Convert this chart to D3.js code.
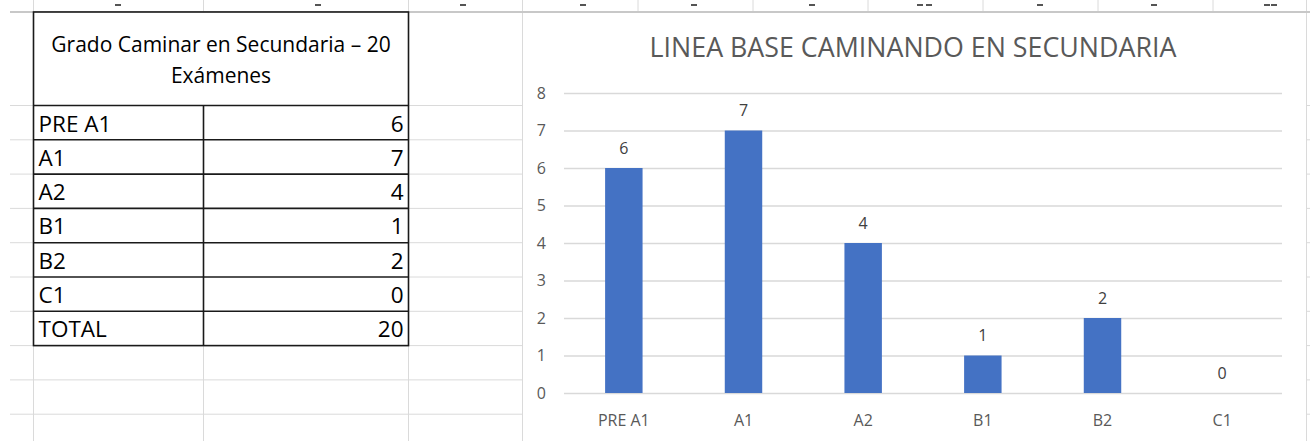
<!DOCTYPE html>
<html>
<head>
<meta charset="utf-8">
<script src="https://cdn.jsdelivr.net/npm/d3@7"></script>
<style>
  body { margin: 0; background: #fff; }
  svg { display: block; font-family: "Open Sans", "Noto Sans", sans-serif; }
</style>
</head>
<body>
<div id="d3"></div>
<script>
// chart data
var categories = ["PRE A1", "A1", "A2", "B1", "B2", "C1"];
var values = [6, 7, 4, 1, 2, 0];
var yTicks = [0, 1, 2, 3, 4, 5, 6, 7, 8];
var chartTitle = "LINEA BASE CAMINANDO EN SECUNDARIA";

// table data
var tableTitle = ["Grado Caminar en Secundaria \u2013 20", "Ex\u00e1menes"];
var tableLabels = ["PRE A1", "A1", "A2", "B1", "B2", "C1", "TOTAL"];
var tableValues = [6, 7, 4, 1, 2, 0, 20];

var W = 1310, H = 441;

var svg = d3.select("#d3")
  .append("svg")
  .attr("width", W)
  .attr("height", H);

// ---- spreadsheet background grid ----
var colLines = [33.5, 203.5, 408.5, 522.5, 638, 753, 868, 983, 1098, 1213, 1306.5];
var rowTop = 12, headBottom = 105.5, rowH = 34.3;
var rowLines = [];
for (var i = 0; i < 10; i++) rowLines.push(headBottom + i * rowH);

var grid = svg.append("g").attr("stroke", "#dadada").attr("stroke-width", 1);

colLines.forEach(function (x) {
  grid.append("line").attr("x1", x).attr("x2", x).attr("y1", 0).attr("y2", H);
});
rowLines.forEach(function (y) {
  grid.append("line").attr("x1", 10).attr("x2", W).attr("y1", y).attr("y2", y);
});
svg.append("line")
  .attr("x1", 10).attr("x2", W).attr("y1", rowTop).attr("y2", rowTop)
  .attr("stroke", "#c8c8c8").attr("stroke-width", 2);

// tiny cut-off text from the row above
[118, 318, 463, 583, 694, 812, 920, 929, 1040, 1154, 1267, 1274].forEach(function (x) {
  svg.append("rect").attr("x", x - 3).attr("y", 4).attr("width", 6).attr("height", 2)
    .attr("fill", "#555");
});

// ---- table ----
var table = svg.append("g");
var tLeft = 33.5, tMid = 203.5, tRight = 408.5;
var tBottom = headBottom + tableLabels.length * rowH;

table.append("rect")
  .attr("x", tLeft).attr("y", rowTop).attr("width", tRight - tLeft).attr("height", tBottom - rowTop)
  .attr("fill", "#fff");

table.selectAll(".head")
  .data(tableTitle)
  .enter().append("text")
  .attr("x", (tLeft + tRight) / 2)
  .attr("y", function (d, i) { return 52 + i * 31; })
  .attr("text-anchor", "middle")
  .attr("font-size", 21)
  .attr("fill", "#000")
  .text(function (d) { return d; });

var rows = table.selectAll(".row")
  .data(tableLabels)
  .enter().append("g")
  .attr("transform", function (d, i) { return "translate(0," + (headBottom + i * rowH) + ")"; });

rows.append("text")
  .attr("x", tLeft + 5)
  .attr("y", 26)
  .attr("font-size", 22.5)
  .attr("fill", "#000")
  .text(function (d) { return d; });

rows.append("text")
  .attr("x", tRight - 5)
  .attr("y", 26)
  .attr("text-anchor", "end")
  .attr("font-size", 22.5)
  .attr("fill", "#000")
  .text(function (d, i) { return tableValues[i]; });

// borders
var border = table.append("g").attr("stroke", "#1a1a1a").attr("stroke-width", 1.6).attr("fill", "none");
border.append("rect")
  .attr("x", tLeft).attr("y", rowTop).attr("width", tRight - tLeft).attr("height", tBottom - rowTop);
for (var r = 0; r < tableLabels.length; r++) {
  border.append("line")
    .attr("x1", tLeft).attr("x2", tRight)
    .attr("y1", headBottom + r * rowH).attr("y2", headBottom + r * rowH);
}
border.append("line")
  .attr("x1", tMid).attr("x2", tMid).attr("y1", headBottom).attr("y2", tBottom);

// ---- chart ----
var chartBox = {left: 523, right: 1306, top: 13};
svg.append("rect")
  .attr("x", chartBox.left).attr("y", chartBox.top)
  .attr("width", chartBox.right - chartBox.left).attr("height", H - chartBox.top)
  .attr("fill", "#fff");

var plot = {left: 564, right: 1282, top: 93, bottom: 393};

var x = d3.scaleBand()
  .domain(categories)
  .range([plot.left, plot.right])
  .paddingInner(0.687)
  .paddingOuter(0.3435);

var y = d3.scaleLinear()
  .domain([0, 8])
  .range([plot.bottom, plot.top]);

svg.append("text")
  .attr("x", (plot.left + plot.right) / 2 - 10)
  .attr("y", 57)
  .attr("text-anchor", "middle")
  .attr("font-size", 26.8)
  .attr("fill", "#595959")
  .text(chartTitle);

// Y axis with gridlines
var yAxis = svg.append("g")
  .attr("transform", "translate(" + plot.left + ",0)")
  .call(d3.axisLeft(y)
    .tickValues(yTicks)
    .tickSize(-(plot.right - plot.left))
    .tickPadding(18)
    .tickFormat(d3.format("d")));
yAxis.select(".domain").remove();
yAxis.selectAll(".tick line").attr("stroke", "#d9d9d9").attr("stroke-width", 1.3);
yAxis.selectAll(".tick text")
  .attr("font-family", "Open Sans")
  .attr("font-size", 16)
  .attr("fill", "#595959");

// X axis
var xAxis = svg.append("g")
  .attr("transform", "translate(0," + plot.bottom + ")")
  .call(d3.axisBottom(x).tickSize(0).tickPadding(22));
xAxis.select(".domain").remove();
xAxis.selectAll(".tick text")
  .attr("font-family", "Open Sans")
  .attr("font-size", 16)
  .attr("fill", "#595959");

// bars
svg.selectAll(".bar")
  .data(values)
  .enter().append("rect")
  .attr("class", "bar")
  .attr("x", function (d, i) { return x(categories[i]); })
  .attr("width", x.bandwidth())
  .attr("y", function (d) { return y(d); })
  .attr("height", function (d) { return y(0) - y(d); })
  .attr("fill", "#4472c4");

// data labels
svg.selectAll(".label")
  .data(values)
  .enter().append("text")
  .attr("class", "label")
  .attr("x", function (d, i) { return x(categories[i]) + x.bandwidth() / 2; })
  .attr("y", function (d) { return y(d) - 14.5; })
  .attr("text-anchor", "middle")
  .attr("font-size", 16)
  .attr("fill", "#404040")
  .text(function (d) { return d; });
</script>
</body>
</html>
